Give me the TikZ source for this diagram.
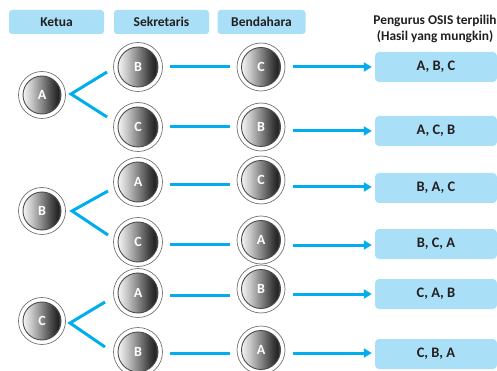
\documentclass[tikz,border=0pt]{standalone}
\usepackage{fontspec}
\setmainfont{Carlito}
\usetikzlibrary{arrows.meta}
\definecolor{boxblue}{HTML}{AADFF8}
\definecolor{lineblue}{HTML}{00AEEF}
\definecolor{txt}{HTML}{231F20}
\pgfdeclarehorizontalshading{ballshade}{100bp}{color(0bp)=(black!3); color(25bp)=(black!4); color(36bp)=(black!22); color(50bp)=(black!48); color(64bp)=(black!75); color(71bp)=(black!86); color(75bp)=(black!70); color(100bp)=(black!70)}
\tikzset{
  hdr/.style={rectangle, rounded corners=3pt, fill=boxblue, minimum height=24pt, font=\bfseries\fontsize{13.5}{15}\selectfont, text=txt, inner sep=0pt},
  res/.style={rectangle, rounded corners=4pt, fill=boxblue, minimum height=30pt, minimum width=122pt, font=\bfseries\fontsize{14.5}{15}\selectfont, text=txt, inner sep=0pt},
  ballout/.style={circle, draw=black!55, line width=0.7pt, fill=white, minimum size=#1, inner sep=0pt},
  ballin/.style={circle, draw=black!70, line width=0.9pt, shading=ballshade, minimum size=#1, inner sep=0pt, text=white, font=\bfseries\fontsize{14}{14}\selectfont},
  bl/.style={draw=lineblue, line width=3pt},
  arr/.style={draw=lineblue, line width=3pt, shorten >=3pt, -{Triangle[length=8pt,width=9pt]}},
}
\newcommand{\myball}[5]{% name, x, y, letter, outer size
  \node[ballout=#5] (#1) at (#2,#3) {};
  \node[ballin={#5-9pt}] at (#2,#3) {#4};
}
\begin{document}
\begin{tikzpicture}[x=1pt,y=-1pt]
\useasboundingbox (0,0) rectangle (497,371);
% headers
\node[hdr, minimum width=95pt] (hk) at (56.5,22) {Ketua};
\node[hdr, minimum width=95pt] (hs) at (161.5,22) {Sekretaris};
\node[hdr, minimum width=88pt] (hb) at (261.5,22) {Bendahara};
\node[font=\bfseries\fontsize{13.4}{16}\selectfont, text=txt, align=center, inner sep=0pt] (ht) at (435,29) {Pengurus OSIS terpilih\\(Hasil yang mungkin)};
% balls
\myball{k1}{42}{95}{A}{47pt}
\myball{k2}{42}{211}{B}{47pt}
\myball{k3}{42}{321}{C}{47pt}
\myball{s1}{138}{67}{B}{49pt}
\myball{s2}{138}{127}{C}{49pt}
\myball{s3}{138}{182}{A}{49pt}
\myball{s4}{138}{242}{C}{49pt}
\myball{s5}{138}{293}{A}{49pt}
\myball{s6}{138}{352}{B}{49pt}
\myball{b1}{261}{67}{C}{48pt}
\myball{b2}{261}{127}{B}{48pt}
\myball{b3}{261}{180}{C}{48pt}
\myball{b4}{261}{240}{A}{48pt}
\myball{b5}{261}{289}{B}{48pt}
\myball{b6}{261}{350}{A}{48pt}
% results
\node[res] (r1) at (436,67) {A, B, C};
\node[res] (r2) at (436,131) {A, C, B};
\node[res] (r3) at (436,188) {B, A, C};
\node[res] (r4) at (436,244) {B, C, A};
\node[res] (r5) at (436,294) {C, A, B};
\node[res] (r6) at (436,354) {C, B, A};
% forks
\coordinate (f1) at (71,94);
\coordinate (f2) at (72,211);
\coordinate (f3) at (70,323);
\draw[bl] (107,72) -- (f1) -- (107,117);
\draw[bl] (108,191) -- (f2) -- (108,235);
\draw[bl] (105,302) -- (f3) -- (105,347);
% horizontal lines
\draw[bl] (170,67) -- (230,67);
\draw[bl] (170,127) -- (230,127);
\draw[bl] (170,185) -- (230,185);
\draw[bl] (170,244) -- (230,244);
\draw[bl] (170,295) -- (230,295);
\draw[bl] (170,353) -- (230,353);
% arrows
\draw[arr] (293,67) -- (r1.west |- 0,67);
\draw[arr] (293,131) -- (r2.west |- 0,131);
\draw[arr] (293,187) -- (r3.west |- 0,187);
\draw[arr] (293,245) -- (r4.west |- 0,245);
\draw[arr] (293,294) -- (r5.west |- 0,294);
\draw[arr] (293,353) -- (r6.west |- 0,353);
\end{tikzpicture}
\end{document}
